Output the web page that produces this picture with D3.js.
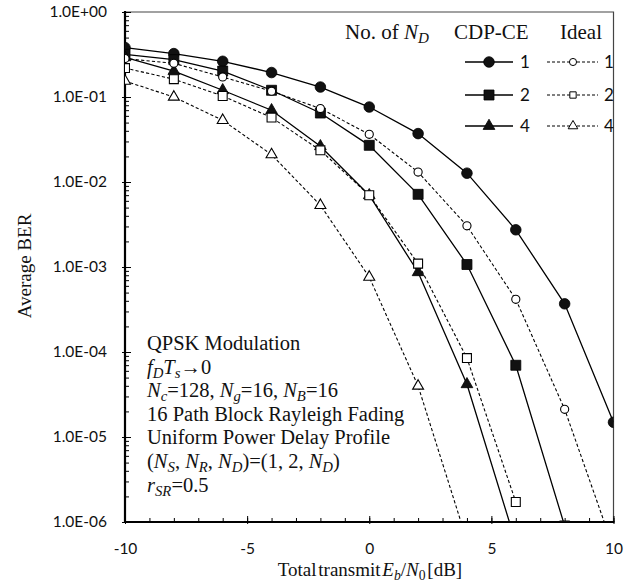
<!DOCTYPE html>
<html><head><meta charset="utf-8">
<script src="https://cdn.jsdelivr.net/npm/d3@7"></script>
<style>html,body{margin:0;padding:0;background:#fff;}svg{display:block;}</style>
</head><body>
<svg id="chart" width="638" height="586"></svg>
<script>
// ---- data ----
const xVals = [-10, -8, -6, -4, -2, 0, 2, 4, 6, 8, 10];
const cdp1   = [0.381, 0.324, 0.263, 0.194, 0.131, 0.0762, 0.0371, 0.0127, 0.00274, 3.69e-4, 1.49e-5];
const cdp2   = [0.318, 0.275, 0.202, 0.120, 0.0648, 0.0270, 0.00716, 0.00107, 6.98e-5, 9e-7];
const cdp4   = [0.293, 0.202, 0.120, 0.0698, 0.0263, 0.00698, 8.67e-4, 4.17e-5, 5.7e-7];
const ideal1 = [0.283, 0.249, 0.172, 0.117, 0.0731, 0.0364, 0.0131, 0.00305, 4.17e-4, 2.12e-5, 4.9e-7];
const ideal2 = [0.219, 0.162, 0.1028, 0.0573, 0.0236, 0.00698, 0.001096, 8.48e-5, 1.72e-6];
const ideal4 = [0.154, 0.100, 0.0532, 0.0210, 0.00532, 7.62e-4, 3.98e-5, 6e-7];
const legendLabels = ["1", "2", "4"];
const xTickValues = [-10, -5, 0, 5, 10];
const xTickLabels = ["-10", "-5", "0", "5", "10"];
const yTickValues = [1, 1e-1, 1e-2, 1e-3, 1e-4, 1e-5, 1e-6];
const yTickLabels = ["1.0E+00", "1.0E-01", "1.0E-02", "1.0E-03", "1.0E-04", "1.0E-05", "1.0E-06"];

const series = [
  {vals: cdp1, shape: "circle", filled: true},
  {vals: cdp2, shape: "square", filled: true},
  {vals: cdp4, shape: "triangle", filled: true},
  {vals: ideal1, shape: "circle", filled: false},
  {vals: ideal2, shape: "square", filled: false},
  {vals: ideal4, shape: "triangle", filled: false}
];

// ---- layout ----
const L = 125, R = 613.5, T = 12, B = 522;
const svg = d3.select("#chart");
const x = d3.scaleLinear().domain([-10, 10]).range([L, R]);
const y = d3.scaleLog().domain([1e-6, 1]).range([B, T]);
const serif = "'Liberation Serif','Times New Roman',serif";
const sans = "Lato,'Open Sans',sans-serif";

// minor ticks
const yMinor = [];
for (let e = -6; e < 0; e++) for (let m = 2; m <= 9; m++) yMinor.push(m * Math.pow(10, e));
const xMinor = d3.range(-10, 11, 1);

// frame (top/right)
svg.append("path").attr("d", `M${L},${T}H${R}V${B}`).attr("fill", "none").attr("stroke", "#444").attr("stroke-width", 1.2);

// inward ticks
svg.append("g").attr("transform", `translate(${L},0)`)
  .call(d3.axisRight(y).tickValues(yMinor).tickSize(4).tickFormat(""))
  .call(g => g.select(".domain").remove());
svg.append("g").attr("transform", `translate(${L},0)`)
  .call(d3.axisRight(y).tickValues(yTickValues).tickSize(6).tickFormat(""))
  .call(g => g.select(".domain").remove());
svg.append("g").attr("transform", `translate(0,${B})`)
  .call(d3.axisTop(x).tickValues(xMinor).tickSize(4).tickFormat(""))
  .call(g => g.select(".domain").remove());
svg.append("g").attr("transform", `translate(0,${B})`)
  .call(d3.axisTop(x).tickValues(xTickValues).tickSize(6).tickFormat(""))
  .call(g => g.select(".domain").remove());

// labelled axes
const gy = svg.append("g").attr("transform", `translate(${L},0)`)
  .call(d3.axisLeft(y).tickValues(yTickValues).tickSize(3).tickPadding(15)
    .tickFormat((d, i) => yTickLabels[i]));
gy.select(".domain").attr("d", `M0,${T - 1}V${B + 1}`).attr("stroke-width", 2.2);
gy.selectAll("text").style("font-family", sans).style("font-size", "15.5px").attr("fill", "#111");

const gx = svg.append("g").attr("transform", `translate(0,${B})`)
  .call(d3.axisBottom(x).tickValues(xTickValues).tickSize(2).tickPadding(19)
    .tickFormat((d, i) => xTickLabels[i]));
gx.select(".domain").attr("d", `M${L - 1},0H${R + 1}`).attr("stroke-width", 2.2);
gx.selectAll("text").style("font-family", sans).style("font-size", "15.5px").attr("fill", "#111");

// clip
svg.append("clipPath").attr("id", "clip").append("rect")
  .attr("x", L).attr("y", T).attr("width", R - L).attr("height", B - T);
const plot = svg.append("g").attr("clip-path", "url(#clip)");

function markerPath(shape, filled) {
  if (shape === "circle") return d3.symbol(d3.symbolCircle, filled ? 88 : 52)();
  if (shape === "square") return d3.symbol(d3.symbolSquare, filled ? 100 : 80)();
  return d3.symbol(d3.symbolTriangle, filled ? 60 : 52)();
}

const line = d3.line().x((d, i) => x(xVals[i])).y(d => y(d));
series.forEach(s => {
  plot.append("path").datum(s.vals).attr("d", line)
    .attr("fill", "none").attr("stroke", "#000")
    .attr("stroke-width", s.filled ? 1.3 : 1.1)
    .attr("stroke-dasharray", s.filled ? null : "3.2,2.2");
});
series.forEach(s => {
  plot.selectAll(null).data(s.vals).enter().append("path")
    .attr("d", markerPath(s.shape, s.filled))
    .attr("transform", (d, i) => `translate(${x(xVals[i])},${y(d)})`)
    .attr("fill", s.filled ? "#111" : "#fff")
    .attr("stroke", "#000").attr("stroke-width", s.filled ? 0.8 : 1.1);
});

// rich text helper
function rich(parent, px, py, segs, size, anchor) {
  const t = parent.append("text").attr("x", px).attr("y", py)
    .style("font-family", serif).style("font-size", size + "px").attr("fill", "#111");
  if (anchor) t.attr("text-anchor", anchor);
  let shift = 0;
  segs.forEach(s => {
    const seg = typeof s === "string" ? {t: s} : s;
    const ts = t.append("tspan").text(seg.t);
    if (seg.i) ts.style("font-style", "italic");
    const target = seg.sub ? size * 0.2 : 0;
    if (target !== shift) { ts.attr("dy", target - shift); shift = target; }
    if (seg.sub) ts.style("font-size", (size * 0.72) + "px");
  });
  return t;
}

// annotation
const ax = 147, fs = 20.5, lh = 23.6, ay0 = 350;
const notes = [
  ["QPSK Modulation"],
  [{t: "f", i: 1}, {t: "D", i: 1, sub: 1}, {t: "T", i: 1}, {t: "s", i: 1, sub: 1}, "\u21920"],
  [{t: "N", i: 1}, {t: "c", i: 1, sub: 1}, "=128, ", {t: "N", i: 1}, {t: "g", i: 1, sub: 1}, "=16, ", {t: "N", i: 1}, {t: "B", i: 1, sub: 1}, "=16"],
  ["16 Path Block Rayleigh Fading"],
  ["Uniform Power Delay Profile"],
  ["(", {t: "N", i: 1}, {t: "S", i: 1, sub: 1}, ", ", {t: "N", i: 1}, {t: "R", i: 1, sub: 1}, ", ", {t: "N", i: 1}, {t: "D", i: 1, sub: 1}, ")=(1, 2, ", {t: "N", i: 1}, {t: "D", i: 1, sub: 1}, ")"],
  [{t: "r", i: 1}, {t: "SR", i: 1, sub: 1}, "=0.5"]
];
notes.forEach((segs, k) => rich(svg, ax, ay0 + k * lh, segs, fs));

// legend
rich(svg, 345, 39, ["No. of ", {t: "N", i: 1}, {t: "D", i: 1, sub: 1}], 21);
rich(svg, 454, 39, ["CDP-CE"], 21);
rich(svg, 560, 39, ["Ideal"], 21);
const rowsY = [62, 95, 126];
const shapes = ["circle", "square", "triangle"];
rowsY.forEach((ry, k) => {
  svg.append("line").attr("x1", 465).attr("x2", 513).attr("y1", ry).attr("y2", ry)
    .attr("stroke", "#000").attr("stroke-width", 1.3);
  svg.append("path").attr("d", markerPath(shapes[k], true))
    .attr("transform", `translate(489,${ry})`).attr("fill", "#111").attr("stroke", "#000").attr("stroke-width", 0.8);
  svg.append("text").attr("x", 520).attr("y", ry + 6).text(legendLabels[k])
    .style("font-family", sans).style("font-size", "17px").attr("fill", "#111");
  svg.append("line").attr("x1", 547).attr("x2", 598).attr("y1", ry).attr("y2", ry)
    .attr("stroke", "#000").attr("stroke-width", 1).attr("stroke-dasharray", "3,2");
  svg.append("path").attr("d", d3.symbol(shapes[k] === "circle" ? d3.symbolCircle : shapes[k] === "square" ? d3.symbolSquare : d3.symbolTriangle, 40)())
    .attr("transform", `translate(573,${ry})`).attr("fill", "#fff").attr("stroke", "#000").attr("stroke-width", 1);
  svg.append("text").attr("x", 604).attr("y", ry + 6).text(legendLabels[k])
    .style("font-family", sans).style("font-size", "17px").attr("fill", "#111");
});

// axis titles
rich(svg, 370, 576, ["Total transmit ", {t: "E", i: 1}, {t: "b", i: 1, sub: 1}, "/", {t: "N", i: 1}, {t: "0", sub: 1}, " [dB]"], 19, "middle")
  .style("word-spacing", "-3px");
svg.append("text").attr("transform", "translate(31,266) rotate(-90)").attr("text-anchor", "middle")
  .text("Average BER").style("font-family", serif).style("font-size", "19px").attr("fill", "#111");
</script>
</body></html>
